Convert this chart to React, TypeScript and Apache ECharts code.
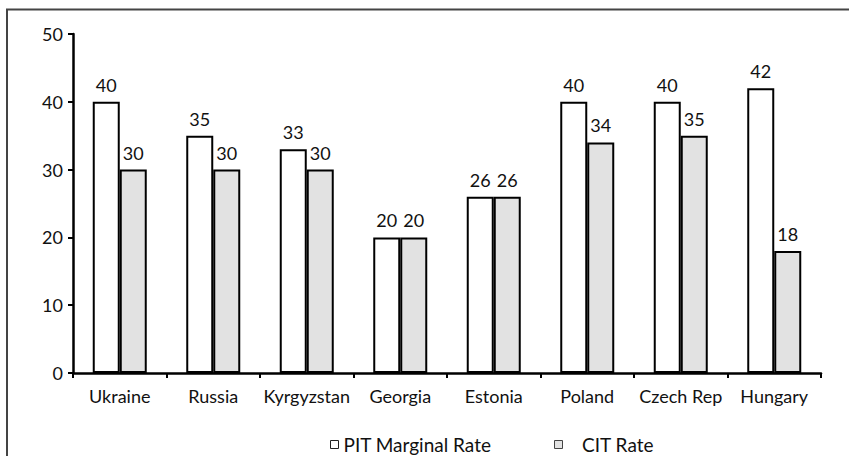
import React, { useEffect, useRef } from "react";
import * as echarts from "echarts";

const categories = ["Ukraine", "Russia", "Kyrgyzstan", "Georgia", "Estonia", "Poland", "Czech Rep", "Hungary"];
const pitRates = [40, 35, 33, 20, 26, 40, 40, 42];
const citRates = [30, 30, 30, 20, 26, 34, 35, 18];
const seriesNames = ["PIT Marginal Rate", "CIT Rate"];
const FONT = "Lato";

export default function App() {
  const ref = useRef<HTMLDivElement>(null);
  useEffect(() => {
    document.body.style.margin = "0";
    const chart = echarts.init(ref.current!, null, { renderer: "svg" });
    const labelStyle = {
      show: true,
      position: "top" as const,
      distance: 8,
      fontFamily: FONT,
      fontSize: 18,
      color: "#111",
    };
    const legendText = { fontFamily: FONT, fontSize: 19, color: "#111", lineHeight: 19 };
    chart.setOption({
      animation: false,
      backgroundColor: "#fff",
      textStyle: { fontFamily: FONT },
      graphic: [
        {
          type: "rect",
          shape: { x: 7, y: 9.5, width: 900, height: 500 },
          style: { fill: "none", stroke: "#444", lineWidth: 2 },
          silent: true,
        },
      ],
      legend: [
        {
          left: 330,
          top: 435,
          padding: 0,
          itemWidth: 8,
          itemHeight: 8,
          textStyle: legendText,
          data: [
            { name: seriesNames[0], icon: "rect", itemStyle: { color: "#fff", borderColor: "#222", borderWidth: 1 } },
          ],
        },
        {
          left: 554,
          top: 435,
          padding: 0,
          itemWidth: 8,
          itemHeight: 8,
          textStyle: legendText,
          formatter: (name: string) => "   " + name,
          data: [
            { name: seriesNames[1], icon: "rect", itemStyle: { color: "#e2e2e2", borderColor: "#444", borderWidth: 1 } },
          ],
        },
      ],
      grid: { left: 73, right: 28, top: 34, bottom: 83, containLabel: false },
      xAxis: {
        type: "category",
        data: categories,
        axisLine: { lineStyle: { color: "#000", width: 2.5 } },
        axisTick: { show: true, length: 5, lineStyle: { color: "#000", width: 2 } },
        axisLabel: { fontFamily: FONT, fontSize: 18, color: "#111", margin: 14, interval: 0 },
      },
      yAxis: {
        type: "value",
        min: 0,
        max: 50,
        interval: 10,
        splitLine: { show: false },
        axisLine: { show: true, lineStyle: { color: "#000", width: 2.5 } },
        axisTick: { show: true, length: 5, lineStyle: { color: "#000", width: 2 } },
        axisLabel: { fontFamily: FONT, fontSize: 18, color: "#111", margin: 10 },
      },
      series: [
        {
          name: seriesNames[0],
          type: "bar",
          data: pitRates,
          barWidth: 27,
          barGap: "0%",
          itemStyle: { color: "#fff", borderColor: "#000", borderWidth: 2 },
          label: labelStyle,
        },
        {
          name: seriesNames[1],
          type: "bar",
          data: citRates,
          barWidth: 27,
          barGap: "0%",
          itemStyle: { color: "#e2e2e2", borderColor: "#000", borderWidth: 2 },
          label: labelStyle,
        },
      ],
    });
    return () => chart.dispose();
  }, []);
  return <div ref={ref} style={{ width: 849, height: 456 }} />;
}
